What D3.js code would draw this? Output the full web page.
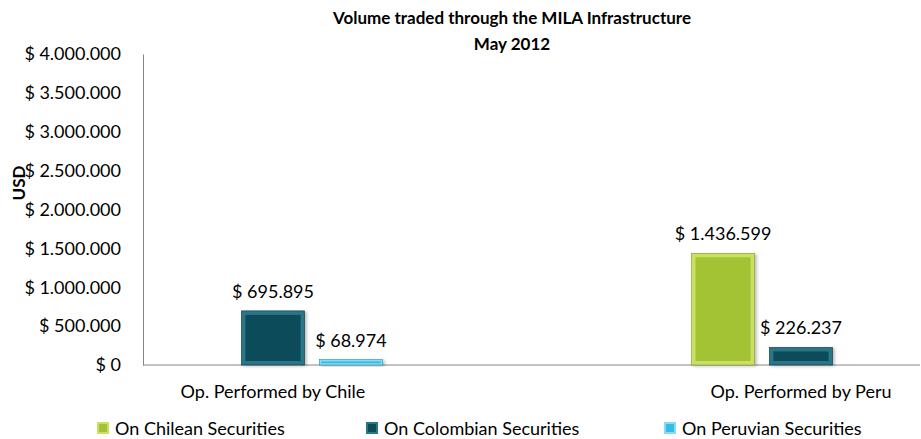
<!DOCTYPE html>
<html>
<head>
<meta charset="utf-8">
<script src="https://cdn.jsdelivr.net/npm/d3@7"></script>
<style>
  body { margin: 0; background: #fff; }
  svg text { font-family: Lato, "Open Sans", sans-serif; fill: #000; }
</style>
</head>
<body>
<div id="chart"></div>
<script>
// data
var categories = ["Op. Performed by Chile", "Op. Performed by Peru"];
var seriesNames = ["On Chilean Securities", "On Colombian Securities", "On Peruvian Securities"];
var chileanValues = [0, 1436599];
var colombianValues = [695895, 226237];
var peruvianValues = [68974, 0];
var yTicks = [0, 500000, 1000000, 1500000, 2000000, 2500000, 3000000, 3500000, 4000000];

var titleLines = ["Volume traded through the MILA Infrastructure", "May 2012"];
var yTitle = "USD";

var colors = [
    { face: "#a3c334", edge: "#c9e062", dark: "#7f9a1f" },
    { face: "#0c4b59", edge: "#2b7687", dark: "#08343f" },
    { face: "#35bce6", edge: "#86dcf4", dark: "#1d93b8" }
];

var width = 921, height = 439;
var margin = { top: 54, right: 1, bottom: 74, left: 143 };
var innerW = width - margin.left - margin.right;
var innerH = height - margin.top - margin.bottom;

var locale = d3.formatLocale({ decimal: ",", thousands: ".", grouping: [3], currency: ["$ ", ""] });
var fmt = locale.format("$,.0f");

var data = categories.map(function (c, i) {
    return {
        key: c,
        values: [chileanValues[i], colombianValues[i], peruvianValues[i]]
    };
});

var svg = d3.select("#chart").append("svg")
    .attr("width", width)
    .attr("height", height);

var defs = svg.append("defs");
var f = defs.append("filter").attr("id", "shadow")
    .attr("x", "-20%").attr("y", "-20%").attr("width", "140%").attr("height", "140%");
f.append("feDropShadow").attr("dx", 2).attr("dy", 1).attr("stdDeviation", 1.5)
    .attr("flood-color", "#000").attr("flood-opacity", 0.25);

var g = svg.append("g")
    .attr("transform", "translate(" + margin.left + "," + margin.top + ")");

var yScale = d3.scaleLinear()
    .domain([0, 4000000])
    .range([innerH, 0]);

// group centres
var xScale = d3.scalePoint()
    .domain(categories)
    .range([130, 658]);

var groupW = 219;
var xInner = d3.scaleBand()
    .domain(d3.range(seriesNames.length))
    .range([-groupW / 2, groupW / 2])
    .paddingInner(0.19);

// y axis
g.append("g")
    .attr("class", "axis")
    .call(d3.axisLeft(yScale).tickValues(yTicks).tickSize(0).tickPadding(22).tickFormat(fmt))
    .call(function (s) {
        s.selectAll("text").style("font-size", "18px").attr("fill", "#000");
        s.select(".domain").attr("stroke", "#868686");
    });

// baseline
g.append("line")
    .attr("x1", 0).attr("x2", innerW)
    .attr("y1", yScale(0)).attr("y2", yScale(0))
    .attr("stroke", "#868686");

// bars
var groups = g.selectAll(".grp")
    .data(data)
    .enter().append("g")
    .attr("class", "grp")
    .attr("transform", function (d) { return "translate(" + xScale(d.key) + ",0)"; });

var bars = groups.selectAll(".bar")
    .data(function (d) {
        return d.values.map(function (v, j) { return { s: j, value: v }; })
            .filter(function (e) { return e.value > 0; });
    })
    .enter().append("g")
    .attr("class", "bar");

function bevel(d) {
    return Math.min(4, (yScale(0) - yScale(d.value)) / 3);
}

bars.append("rect")
    .attr("x", function (d) { return xInner(d.s); })
    .attr("y", function (d) { return yScale(d.value); })
    .attr("width", xInner.bandwidth())
    .attr("height", function (d) { return yScale(0) - yScale(d.value); })
    .attr("fill", function (d) { return colors[d.s].edge; })
    .attr("stroke", function (d) { return colors[d.s].dark; })
    .attr("stroke-width", 0.6)
    .attr("filter", "url(#shadow)");

bars.append("rect")
    .attr("x", function (d) { return xInner(d.s) + bevel(d); })
    .attr("y", function (d) { return yScale(d.value) + bevel(d); })
    .attr("width", function (d) { return xInner.bandwidth() - 2 * bevel(d); })
    .attr("height", function (d) { return (yScale(0) - yScale(d.value)) - 2 * bevel(d); })
    .attr("fill", function (d) { return colors[d.s].face; });

bars.append("text")
    .attr("x", function (d) { return xInner(d.s) + xInner.bandwidth() / 2; })
    .attr("y", function (d) { return yScale(d.value) - 13; })
    .attr("text-anchor", "middle")
    .style("font-size", "18px")
    .text(function (d) { return fmt(d.value); });

// category labels
g.selectAll(".cat")
    .data(categories)
    .enter().append("text")
    .attr("class", "cat")
    .attr("x", function (d) { return xScale(d); })
    .attr("y", innerH + 33)
    .attr("text-anchor", "middle")
    .style("font-size", "18px")
    .text(function (d) { return d; });

// title
svg.selectAll(".title")
    .data(titleLines)
    .enter().append("text")
    .attr("class", "title")
    .attr("x", 512)
    .attr("y", function (d, i) { return 24 + i * 26; })
    .attr("text-anchor", "middle")
    .style("font-size", "17px")
    .style("font-weight", "bold")
    .text(function (d) { return d; });

// y title
svg.append("text")
    .attr("transform", "translate(25,183) rotate(-90)")
    .attr("text-anchor", "middle")
    .style("font-size", "17px")
    .style("font-weight", "bold")
    .text(yTitle);

// legend
var legendX = [97, 366, 664];
var legend = svg.selectAll(".legend")
    .data(seriesNames)
    .enter().append("g")
    .attr("class", "legend")
    .attr("transform", function (d, i) { return "translate(" + legendX[i] + ",422)"; });

legend.append("rect")
    .attr("width", 12).attr("height", 12)
    .attr("fill", function (d, i) { return colors[i].edge; });
legend.append("rect")
    .attr("x", 2).attr("y", 2)
    .attr("width", 8).attr("height", 8)
    .attr("fill", function (d, i) { return colors[i].face; });

legend.append("text")
    .attr("x", 18)
    .attr("y", 13)
    .style("font-size", "18px")
    .text(function (d) { return d; });
</script>
</body>
</html>
